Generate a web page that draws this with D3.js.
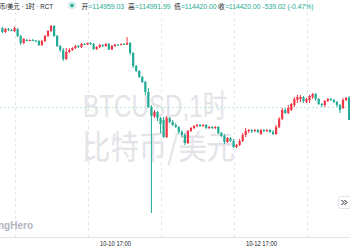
<!DOCTYPE html>
<html>
<head>
<meta charset="utf-8">
<script src="https://cdn.jsdelivr.net/npm/d3@7/dist/d3.min.js"></script>
<style>
html, body { margin: 0; padding: 0; background: #fff; overflow: hidden; }
svg { display: block; font-family: "Liberation Sans", Arial, "Noto Sans CJK SC", sans-serif; }
</style>
</head>
<body>
<svg id="chart" width="350" height="250"></svg>
<script>
// hourly BTCUSD bars, first bar time (local chart time)
var firstBar = "2025-10-09T04:00";
var opens = [116628,116532,116604,116580,116556,116604,116436,116268,116340,116328,116340,116328,116316,116220,116316,116436,116556,116676,116436,116196,
  116100,115884,116052,116100,116148,116196,116172,116244,116232,116268,116244,116124,116172,116220,116196,116244,116112,116196,116232,116220,
  116244,116232,116268,116028,115716,115596,115452,115332,115092,114732,114516,114612,114468,114420,114012,114468,114372,114300,114252,114132,
  114060,113868,114156,114228,114276,114300,114276,114300,114228,114252,114228,114252,114108,114036,113892,113988,113916,113772,113820,113916,
  114060,114156,114180,114156,114180,114084,114180,114156,114180,114132,114084,114252,114444,114660,114588,114660,114780,114900,114924,114972,
  114852,114900,114972,115044,114924,114804,114780,114876,114924,114900,114852,114780,114708,114900,114959.03];
var highs = [116652,116628,116628,116604,116664,116628,116460,116388,116364,116352,116364,116340,116340,116340,116460,116580,116700,116700,116460,116220,
  116148,116148,116148,116172,116220,116220,116268,116268,116280,116292,116268,116196,116244,116244,116268,116268,116220,116244,116244,116256,
  116268,116412,116292,116052,115740,115620,115476,115356,115188,114780,114660,114636,114492,114492,114516,114492,114420,114348,114276,114180,
  114108,114180,114252,114300,114324,114324,114324,114324,114276,114276,114276,114276,114132,114084,114012,114012,113964,113844,113964,114108,
  114228,114204,114204,114204,114204,114204,114204,114204,114204,114180,114300,114492,114708,114708,114780,114828,114972,115020,115020,114996,
  114948,115020,115068,115068,114948,114828,114900,114948,114948,114924,114876,114804,114948,114972,114991.99];
var lows = [116508,116508,116556,116556,116532,116412,116220,116244,116316,116316,116316,116292,116196,116196,116292,116412,116532,116412,116172,116052,
  115836,115860,116028,116076,116124,116148,116148,116220,116220,116220,116100,116100,116148,116172,116172,116100,116100,116172,116196,116208,
  116220,116220,115980,115668,115572,115428,115308,115020,114708,112188,114468,114396,114108,113988,113988,114348,114276,114228,114084,114012,
  113820,113844,114132,114204,114252,114252,114252,114204,114204,114204,114204,114084,114012,113844,113868,113892,113748,113748,113796,113892,
  114012,114108,114108,114132,114108,114060,114132,114132,114108,114060,114060,114228,114420,114564,114564,114636,114732,114828,114852,114828,
  114828,114828,114924,114876,114780,114732,114732,114852,114876,114828,114732,114588,114684,114876,114420.00];
var closes = [116532,116604,116580,116556,116628,116436,116268,116364,116328,116340,116328,116316,116220,116316,116436,116556,116676,116436,116196,116100,
  115884,116052,116100,116148,116196,116172,116244,116232,116268,116244,116124,116172,116220,116196,116244,116112,116196,116232,116220,116244,
  116232,116268,116028,115716,115596,115452,115332,115092,114732,114516,114612,114468,114324,114012,114468,114372,114300,114252,114132,114060,
  113868,114156,114228,114276,114300,114276,114300,114228,114252,114228,114252,114108,114036,113892,113988,113916,113772,113820,113916,114060,
  114156,114180,114156,114180,114132,114180,114156,114180,114132,114084,114252,114444,114660,114588,114708,114804,114924,114972,114972,114876,
  114924,114996,115044,114924,114804,114780,114876,114924,114900,114852,114780,114660,114900,114948,114420.00];

var timeLabels = ["2025-10-10T17:00", "2025-10-12T17:00"];
var gridTimes = ["2025-10-09T08:00", "2025-10-10T08:00", "2025-10-11T08:00", "2025-10-12T08:00", "2025-10-13T08:00"];
var lastPriceLine = 114732;

var titleText = "比特币/美元 · 1时 · RCT";
var ohlcNames = ["开", "高", "低", "收"];
var ohlcValues = ["114959.03", "114991.99", "114420.00", "114420.00"];
var changeText = "-539.02 (-0.47%)";
var watermarkLines = ["BTCUSD,1时", "比特币/美元"];
var logoText = "TradingHero";

var upColor = "#f23645", downColor = "#22ab94";
var W = 350, H = 250, axisY = 237;

var parse = d3.utcParse("%Y-%m-%dT%H:%M");
var t0 = parse(firstBar);
var bars = opens.map(function(o, i){
    return {"t": new Date(+t0 + i * 3600e3), "o": o, "h": highs[i], "l": lows[i], "c": closes[i]};
});

var x = d3.scaleUtc().domain([bars[0].t, bars[bars.length - 1].t]).range([2.4, 349.1]);
var y = d3.scaleLinear().domain([111612, 117300]).range([axisY, 0]);

var svg = d3.select("#chart");

// watermark
var wm = svg.append("g").attr("fill", "#e3e4e8");
wm.append("text").attr("x", 83).attr("y", 117).attr("font-size", 32)
    .attr("textLength", 144).attr("lengthAdjust", "spacingAndGlyphs").text(watermarkLines[0]);
wm.append("text").attr("x", 82).attr("y", 159).attr("font-size", 33)
    .attr("font-family", "'Noto Sans CJK SC', sans-serif")
    .attr("textLength", 153).attr("lengthAdjust", "spacingAndGlyphs").text(watermarkLines[1]);

// vertical grid
svg.append("g").selectAll("line")
    .data(gridTimes.map(parse))
    .enter().append("line")
    .attr("x1", function(d){ return Math.round(x(d)) + 0.5; })
    .attr("x2", function(d){ return Math.round(x(d)) + 0.5; })
    .attr("y1", 0).attr("y2", axisY)
    .attr("stroke", "#e6e7eb").attr("stroke-dasharray", "3,3");

// last price line
svg.append("line")
    .attr("x1", 0).attr("x2", W)
    .attr("y1", Math.round(y(lastPriceLine)) + 0.5).attr("y2", Math.round(y(lastPriceLine)) + 0.5)
    .attr("stroke", "#c4e7e1").attr("stroke-dasharray", "2,2");

// candles
var candles = svg.append("g").selectAll("g").data(bars).enter().append("g");
candles.append("line")
    .attr("x1", function(d){ return x(d.t); })
    .attr("x2", function(d){ return x(d.t); })
    .attr("y1", function(d){ return y(d.h); })
    .attr("y2", function(d){ return y(d.l); })
    .attr("stroke", function(d){ return d.c >= d.o ? upColor : downColor; })
    .attr("stroke-width", 1);
candles.append("rect")
    .attr("x", function(d){ return x(d.t) - 1.1; })
    .attr("width", 2.2)
    .attr("y", function(d){ return y(Math.max(d.o, d.c)); })
    .attr("height", function(d){ return Math.max(1, Math.abs(y(d.o) - y(d.c))); })
    .attr("fill", function(d){ return d.c >= d.o ? upColor : downColor; });

// header legend
var head = svg.append("g").attr("font-size", 6.8);
head.append("text").attr("x", -13).attr("y", 8.5).attr("fill", "#131722")
    .attr("textLength", 66).attr("lengthAdjust", "spacingAndGlyphs").text(titleText);
head.append("circle").attr("cx", 72).attr("cy", 5.5).attr("r", 4).attr("fill", "#d3efea");
head.append("circle").attr("cx", 72).attr("cy", 5.5).attr("r", 1.8).attr("fill", downColor);
var segX = [81.5, 128, 174, 218];
ohlcNames.forEach(function(n, i){
    head.append("text").attr("x", segX[i]).attr("y", 8.5).attr("fill", "#131722")
        .attr("font-family", "'Noto Sans CJK SC', sans-serif").text(n);
    head.append("text").attr("x", segX[i] + 6.9).attr("y", 8.5).attr("fill", downColor)
        .text("=" + ohlcValues[i]);
});
head.append("text").attr("x", 262.5).attr("y", 8.5).attr("fill", downColor).text(changeText);

// time axis
svg.append("line").attr("x1", 0).attr("x2", W).attr("y1", axisY + 0.5).attr("y2", axisY + 0.5)
    .attr("stroke", "#e0e3eb");
var xAxis = d3.axisBottom(x).tickValues(timeLabels.map(parse)).tickSize(0)
    .tickFormat(d3.utcFormat("%m-%d %H:%M"));
var ax = svg.append("g").attr("transform", "translate(0," + axisY + ")").call(xAxis);
ax.select(".domain").remove();
ax.selectAll("text").attr("font-size", 6.5).attr("fill", "#131722").attr("dy", 0).attr("y", 9)
    .attr("font-family", "'Liberation Sans', Arial, sans-serif")
    .attr("textLength", 31).attr("lengthAdjust", "spacingAndGlyphs");

// logo
svg.append("text").attr("x", 33).attr("y", 229).attr("text-anchor", "end")
    .attr("font-size", 10).attr("font-weight", "bold").attr("fill", "#b2b5be").text(logoText);

// scroll button
var btn = svg.append("g");
btn.append("rect").attr("x", 338.5).attr("y", 196.5).attr("width", 14).attr("height", 12).attr("rx", 2)
    .attr("fill", "#fff").attr("stroke", "#e0e3eb");
btn.append("path").attr("d", "M341.5,200 L344,202.5 L341.5,205 M344.5,200 L347,202.5 L344.5,205")
    .attr("fill", "none").attr("stroke", "#131722").attr("stroke-width", 1);
</script>
</body>
</html>
